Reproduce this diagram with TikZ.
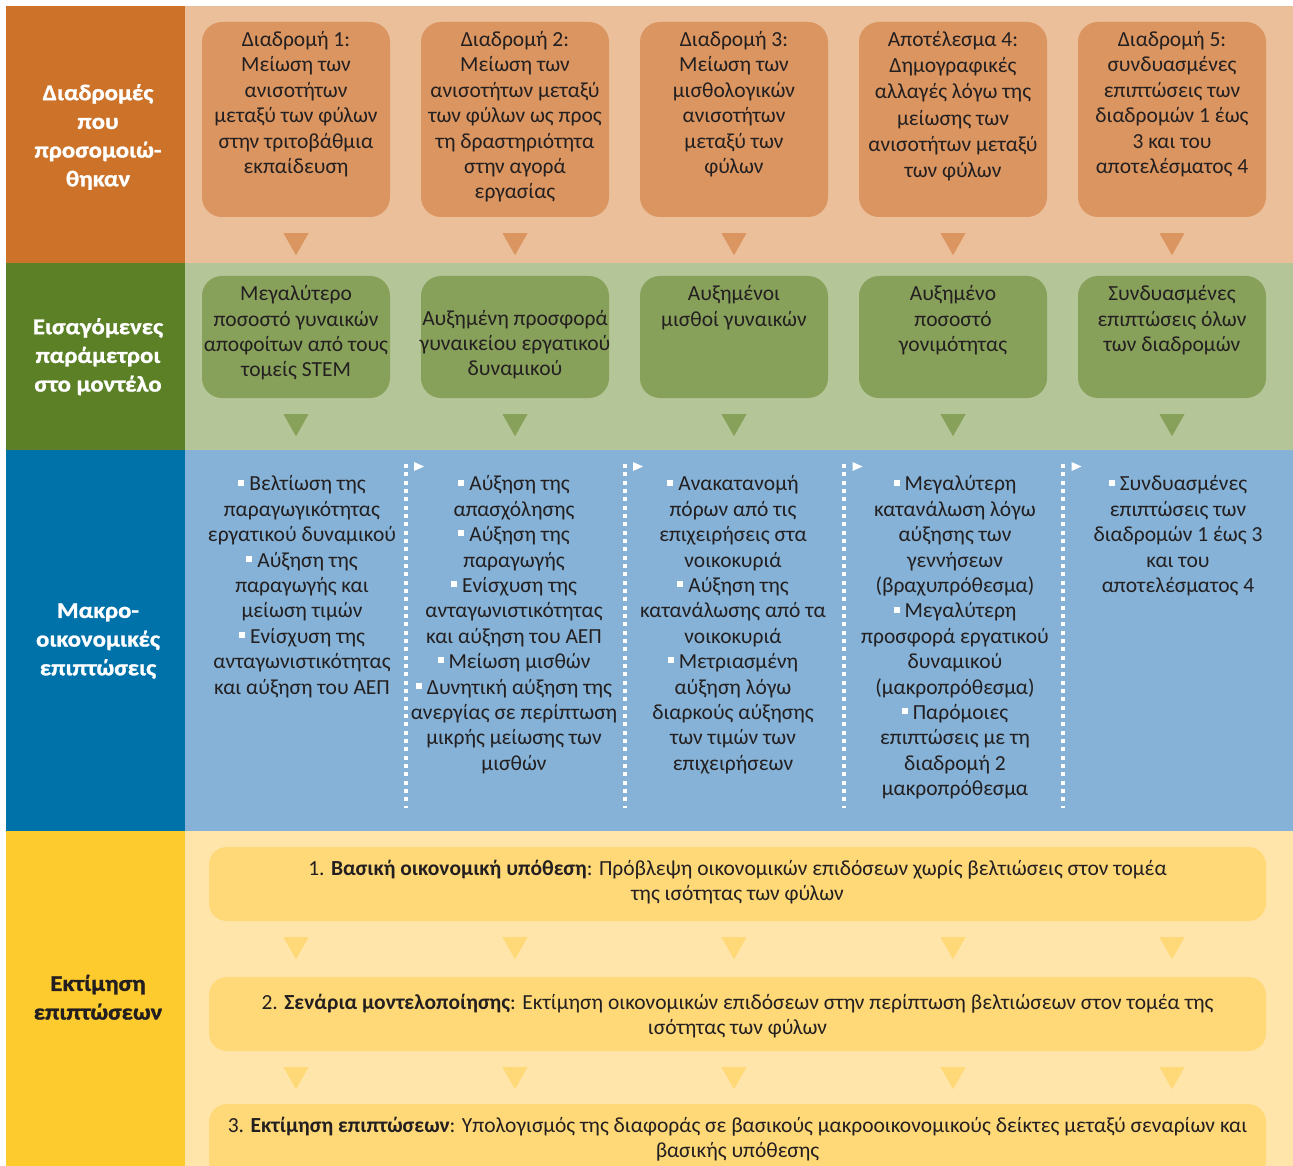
\documentclass[tikz,border=0pt]{standalone}
\usepackage{fontspec}
\setmainfont{Carlito}
\newfontfamily\hfont{Carlito}[FakeStretch=1.1,BoldFeatures={FakeBold=1.2}]
\usetikzlibrary{calc}
\definecolor{txtc}{HTML}{231F20}
\definecolor{orD}{HTML}{CC7229}
\definecolor{orL}{HTML}{EBBF99}
\definecolor{orB}{HTML}{DA9560}
\definecolor{grD}{HTML}{5B8026}
\definecolor{grL}{HTML}{B4C597}
\definecolor{grB}{HTML}{87A05A}
\definecolor{blD}{HTML}{0072AA}
\definecolor{blL}{HTML}{85B2D6}
\definecolor{yeD}{HTML}{FECB2F}
\definecolor{yeL}{HTML}{FFE5A9}
\definecolor{yeB}{HTML}{FFD878}
\newcommand\bul{\textcolor{white}{\rule[5.4pt]{6pt}{6pt}}\hspace{5pt}}
\newcommand\fs{\rule{0pt}{18pt}}
\newcommand\fb{\rule{0pt}{19pt}}
\newcommand\downtri[2]{\fill[#1] ($#2+(-12.5,16)$) -- ($#2+(12.5,16)$) -- ($#2+(0,38)$) -- cycle;}
\begin{document}
\begin{tikzpicture}[x=1pt,y=-1pt,
  body/.style={font=\fontsize{21.5}{25.4}\selectfont, text=txtc, align=center, inner sep=0pt, anchor=north},
  hdr/.style={font=\hfont\bfseries\fontsize{22.5}{28.7}\selectfont, text=white, align=center, inner sep=0pt, anchor=north},
  card/.style={rounded corners=20pt, inner sep=0pt, minimum width=188pt, draw=none},
  wide/.style={rounded corners=18pt, inner sep=0pt, minimum width=1057pt, minimum height=74pt, draw=none, fill=yeB},
  sep/.style={white, line width=4pt, dash pattern=on 4pt off 4.33pt},
]
\clip (0,0) rectangle (1293,1166);
\fill[white] (0,0) rectangle (1293,1166);
% backgrounds
\fill[orD] (6,6) rectangle (185,263);
\fill[orL] (185,6) rectangle (1293,263);
\fill[grD] (6,263) rectangle (185,450);
\fill[grL] (185,263) rectangle (1293,450);
\fill[blD] (6,450) rectangle (185,831);
\fill[blL] (185,450) rectangle (1293,831);
\fill[yeD] (6,831) rectangle (185,1166);
\fill[yeL] (185,831) rectangle (1293,1166);

% row headers
\node[hdr] (h1) at (98,81) {\fb Διαδρομές\\που\\προσομοιώ-\\θηκαν};
\node[hdr] (h2) at (98,315) {\fb Εισαγόμενες\\παράμετροι\\στο μοντέλο};
\node[hdr] (h3) at (98,598.7) {\fb Μακρο-\\οικονομικές\\επιπτώσεις};
\node[hdr, text=txtc] (h4) at (98,971.7) {\fb Εκτίμηση\\επιπτώσεων};

% row 1 and row 2 boxes
\foreach \i/\x in {1/296,2/515,3/734,4/953,5/1172}{
  \node[card, fill=orB, minimum height=195pt] (o\i) at (\x,119.5) {};
  \node[card, fill=grB, minimum height=122pt] (g\i) at (\x,337) {};
}
\node[body] (ot1) at ($(o1.north)+(0,6.5)$) {\fs Διαδρομή 1:\\Μείωση των\\ανισοτήτων\\μεταξύ των φύλων\\στην τριτοβάθμια\\εκπαίδευση};
\node[body] (ot2) at ($(o2.north)+(0,6.5)$) {\fs Διαδρομή 2:\\Μείωση των\\ανισοτήτων μεταξύ\\των φύλων ως προς\\τη δραστηριότητα\\στην αγορά\\εργασίας};
\node[body] (ot3) at ($(o3.north)+(0,6.5)$) {\fs Διαδρομή 3:\\Μείωση των\\μισθολογικών\\ανισοτήτων\\μεταξύ των\\φύλων};
\node[body, font=\fontsize{21.5}{26.2}\selectfont] (ot4) at ($(o4.north)+(0,6.5)$) {\fs Αποτέλεσμα 4:\\Δημογραφικές\\αλλαγές λόγω της\\μείωσης των\\ανισοτήτων μεταξύ\\των φύλων};
\node[body] (ot5) at ($(o5.north)+(0,6.5)$) {\fs Διαδρομή 5:\\συνδυασμένες\\επιπτώσεις των\\διαδρομών 1 έως\\3 και του\\αποτελέσματος 4};

% row 2 texts
\node[body] (gt1) at ($(g1.north)+(0,6.7)$) {\fs Μεγαλύτερο\\ποσοστό γυναικών\\αποφοίτων από τους\\τομείς STEM};
\node[body] (gt2) at ($(g2.north)+(0,31)$) {\fs Αυξημένη προσφορά\\γυναικείου εργατικού\\δυναμικού};
\node[body] (gt3) at ($(g3.north)+(0,6.7)$) {\fs Αυξημένοι\\μισθοί γυναικών};
\node[body] (gt4) at ($(g4.north)+(0,6.7)$) {\fs Αυξημένο\\ποσοστό\\γονιμότητας};
\node[body] (gt5) at ($(g5.north)+(0,6.7)$) {\fs Συνδυασμένες\\επιπτώσεις όλων\\των διαδρομών};

% triangles rows 1-2
\foreach \i in {1,...,5}{
  \downtri{orB}{(o\i.south)}
  \downtri{grB}{(g\i.south)}
}

% row 3 separators
\foreach \i/\x in {1/405.5,2/624.5,3/844,4/1063}{
  \coordinate (d\i t) at (\x,464);
  \coordinate (d\i b) at (\x,808);
  \draw[sep] (d\i t) -- (d\i b);
  \fill[white] ($(d\i t)+(8.5,-2)$) -- ($(d\i t)+(18.5,2.5)$) -- ($(d\i t)+(8.5,7)$) -- cycle;
}

% row 3 texts
\begin{scope}[every node/.append style={font=\fontsize{21.5}{25.5}\selectfont}]
\node[body] (m1) at (302,472.7) {\fs\bul Βελτίωση της\\παραγωγικότητας\\εργατικού δυναμικού\\\bul Αύξηση της\\παραγωγής και\\μείωση τιμών\\\bul Ενίσχυση της\\ανταγωνιστικότητας\\και αύξηση του ΑΕΠ};
\node[body] (m2) at (514,472.7) {\fs\bul Αύξηση της\\απασχόλησης\\\bul Αύξηση της\\παραγωγής\\\bul Ενίσχυση της\\ανταγωνιστικότητας\\και αύξηση του ΑΕΠ\\\bul Μείωση μισθών\\\bul Δυνητική αύξηση της\\ανεργίας σε περίπτωση\\μικρής μείωσης των\\μισθών};
\node[body] (m3) at (733,472.7) {\fs\bul Ανακατανομή\\πόρων από τις\\επιχειρήσεις στα\\νοικοκυριά\\\bul Αύξηση της\\κατανάλωσης από τα\\νοικοκυριά\\\bul Μετριασμένη\\αύξηση λόγω\\διαρκούς αύξησης\\των τιμών των\\επιχειρήσεων};
\node[body] (m4) at (955,472.7) {\fs\bul Μεγαλύτερη\\κατανάλωση λόγω\\αύξησης των\\γεννήσεων\\(βραχυπρόθεσμα)\\\bul Μεγαλύτερη\\προσφορά εργατικού\\δυναμικού\\(μακροπρόθεσμα)\\\bul Παρόμοιες\\επιπτώσεις με τη\\διαδρομή 2\\μακροπρόθεσμα};
\node[body] (m5) at (1178,472.7) {\fs\bul Συνδυασμένες\\επιπτώσεις των\\διαδρομών 1 έως 3\\και του\\αποτελέσματος 4};
\end{scope}

% row 4 boxes
\node[wide] (y1) at (737.5,884) {};
\node[wide] (y2) at (737.5,1014) {};
\node[wide] (y3) at (737.5,1141) {};
\begin{scope}[every node/.append style={font=\fontsize{21.5}{25}\selectfont}]
\node[body] (yt1) at (737.5,857) {\fs 1. \textbf{Βασική οικονομική υπόθεση}: Πρόβλεψη οικονομικών επιδόσεων χωρίς βελτιώσεις στον τομέα\\της ισότητας των φύλων};
\node[body] (yt2) at (737.5,991) {\fs 2. \textbf{Σενάρια μοντελοποίησης}: Εκτίμηση οικονομικών επιδόσεων στην περίπτωση βελτιώσεων στον τομέα της\\ισότητας των φύλων};
\node[body] (yt3) at (737.5,1114) {\fs 3. \textbf{Εκτίμηση επιπτώσεων}: Υπολογισμός της διαφοράς σε βασικούς μακροοικονομικούς δείκτες μεταξύ σεναρίων και\\βασικής υπόθεσης};
\end{scope}
\foreach \i in {1,...,5}{
  \coordinate (ta\i) at (o\i.south |- y1.south);
  \coordinate (tb\i) at (o\i.south |- y2.south);
  \downtri{yeB}{(ta\i)}
  \downtri{yeB}{(tb\i)}
}
\end{tikzpicture}
\end{document}
